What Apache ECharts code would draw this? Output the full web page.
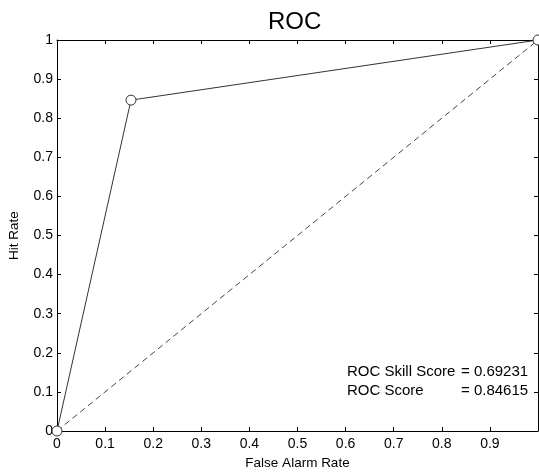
<!DOCTYPE html>
<html><head><meta charset="utf-8">
<script src="https://cdn.jsdelivr.net/npm/echarts@6/dist/echarts.min.js"></script>
<style>html,body{margin:0;padding:0;background:#fff}#c{width:539px;height:474px}</style>
</head><body><div id="c"></div>
<script>
const falseAlarm = [0, 0.1538, 1];
const hitRate = [0, 0.8462, 1];
const noSkillX = [0, 1];
const noSkillY = [0, 1];
const scoreNames = ['ROC Skill Score', 'ROC Score'];
const scoreValues = ['= 0.69231', '= 0.84615'];

const font = 'Liberation Sans, Arial, sans-serif';
const chart = echarts.init(document.getElementById('c'));
const axisCommon = {
  min: 0, max: 1, interval: 0.1,
  axisLine: {show: true, onZero: false, lineStyle: {color: '#000', width: 1}},
  axisTick: {show: true, inside: true, length: 4, lineStyle: {color: '#000'}},
  splitLine: {show: false}
};
function lab(v){ return (Math.round(v*10)/10).toString(); }
chart.setOption({
  animation: false,
  title: {text: 'ROC', left: 263, top: 5,
    textStyle: {fontFamily: font, fontSize: 24, fontWeight: 'normal', color: '#000'}},
  grid: {left: 57, right: 1, top: 40, bottom: 43, containLabel: false, outerBoundsMode: 'none'},
  xAxis: [
    Object.assign({}, axisCommon, {type: 'value', position: 'bottom',
      name: 'False Alarm Rate', nameLocation: 'middle', nameGap: 23,
      nameTextStyle: {fontFamily: font, fontSize: 13.5, color: '#000'},
      axisLabel: {show: true, formatter: v => v >= 0.999 ? '' : lab(v), margin: 6,
        fontFamily: font, fontSize: 14, color: '#000'}}),
    Object.assign({}, axisCommon, {type: 'value', position: 'top', axisLabel: {show: false}})
  ],
  yAxis: [
    Object.assign({}, axisCommon, {type: 'value', position: 'left',
      name: 'Hit Rate', nameLocation: 'middle', nameGap: 36,
      nameTextStyle: {fontFamily: font, fontSize: 13.5, color: '#000'},
      axisLabel: {show: true, formatter: v => lab(v), margin: 4,
        fontFamily: font, fontSize: 14, color: '#000'}}),
    Object.assign({}, axisCommon, {type: 'value', position: 'right', axisLabel: {show: false}})
  ],
  series: [
    {type: 'line', data: falseAlarm.map((x,i)=>[x, hitRate[i]]),
      lineStyle: {color: '#333', width: 1}, symbol: 'circle', symbolSize: 10,
      itemStyle: {color: '#fff', borderColor: '#333', borderWidth: 1}, z: 3},
    {type: 'line', data: noSkillX.map((x,i)=>[x, noSkillY[i]]), symbol: 'none',
      lineStyle: {color: '#444', width: 1, type: [6, 4]}, z: 2,
      markPoint: {symbol: 'none', data: [
        {coord: [0.515, 0.496], label: {show: true, formatter: '←No Skill', position: 'right', offset: [-5, 0],
          fontFamily: font, fontSize: 17, color: '#000'}}
      ]}}
  ],
  graphic: [
    {type: 'text', left: 347, top: 364, style: {text: scoreNames[0], font: '15px ' + font, fill: '#000'}},
    {type: 'text', left: 461, top: 364, style: {text: scoreValues[0], font: '15px ' + font, fill: '#000'}},
    {type: 'text', left: 347, top: 383, style: {text: scoreNames[1], font: '15px ' + font, fill: '#000'}},
    {type: 'text', left: 461, top: 383, style: {text: scoreValues[1], font: '15px ' + font, fill: '#000'}}
  ]
});
</script></body></html>
